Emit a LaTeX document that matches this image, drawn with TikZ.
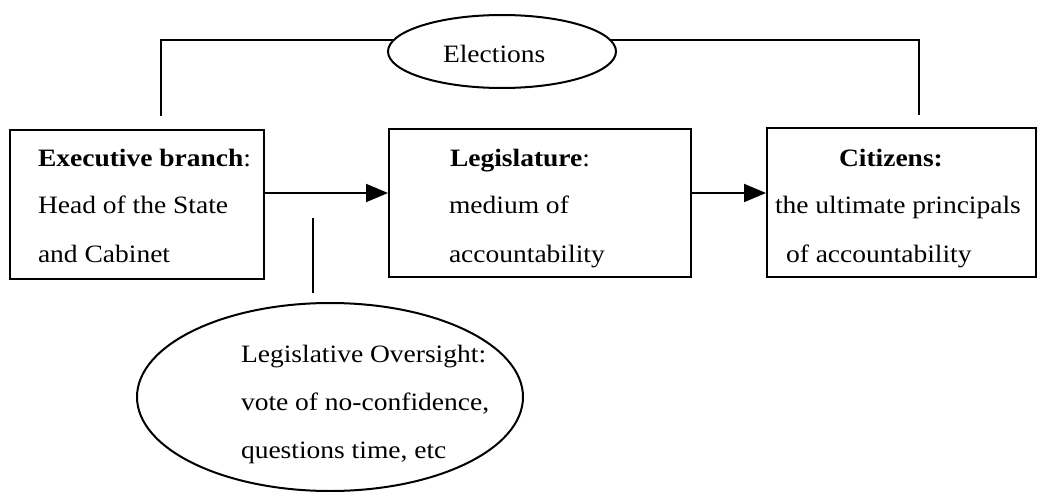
\documentclass[tikz,border=0pt]{standalone}
\usepackage{fontspec}
\setmainfont{Liberation Serif}[FakeStretch=1.1]
\usetikzlibrary{shapes.geometric,arrows.meta}
\begin{document}
\begin{tikzpicture}[x=1pt,y=-1pt,
  line width=2pt,
  box/.style={draw,rectangle,inner sep=0pt},
  oval/.style={draw,ellipse,inner sep=0pt},
  txt/.style={anchor=base west,inner sep=0pt,font=\fontsize{25}{30}\selectfont},
  arr/.style={-{Triangle[length=22pt,width=18pt]}}]
\useasboundingbox (0,0) rectangle (1038,492);
% boxes
\node[box,minimum width=254pt,minimum height=149pt] (exec) at (137,204.5) {};
\node[box,minimum width=302pt,minimum height=148pt] (leg) at (540,203) {};
\node[box,minimum width=269pt,minimum height=149pt] (cit) at (901.5,202.5) {};
\node[oval,minimum width=228pt,minimum height=73pt] (elect) at (502,51.5) {};
\node[oval,minimum width=386pt,minimum height=188pt] (over) at (330,397) {};
% texts
\node[txt] (e1) at (37,166) {\textbf{Executive branch}:};
\node[txt] (e2) at (37,213) {Head of the State};
\node[txt] (e3) at (37,262) {and Cabinet};
\node[txt] (l1) at (449,166) {\textbf{Legislature}:};
\node[txt] (l2) at (448,213) {medium of};
\node[txt] (l3) at (448,262) {accountability};
\node[txt] (c1) at (838,166) {\textbf{Citizens:}};
\node[txt] (c2) at (774,213) {the ultimate principals};
\node[txt] (c3) at (785,262) {of accountability};
\node[txt] (el) at (442,63) {Elections};
\node[txt] (o1) at (240,362) {Legislative Oversight:};
\node[txt] (o2) at (240,410) {vote of no-confidence,};
\node[txt] (o3) at (240,458) {questions time, etc};
% connectors
\coordinate (ex) at (161,116);
\coordinate (cx) at (919,115);
\coordinate (ovt) at (313,218);
\coordinate (ovb) at (313,293);
\draw (ex) |- (elect.174);
\draw (elect.6) -| (cx);
\draw[arr] ([yshift=11.5pt]exec.east) -- ([yshift=11.5pt]exec.east -| leg.west);
\draw[arr] ([yshift=10pt]leg.east) -- ([yshift=10pt]leg.east -| cit.west);
\draw (ovt) -- (ovb);
\end{tikzpicture}
\end{document}
